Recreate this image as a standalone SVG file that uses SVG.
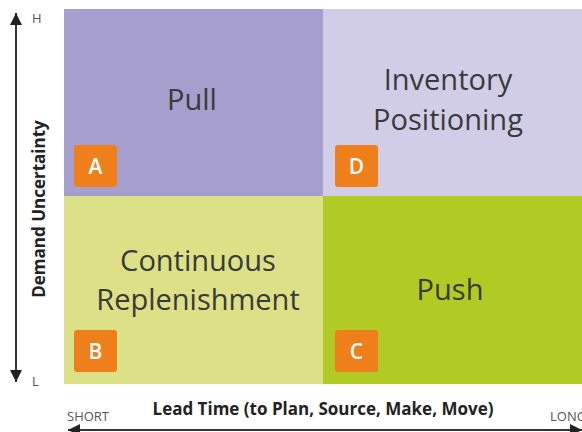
<svg xmlns="http://www.w3.org/2000/svg" width="582" height="432" viewBox="0 0 582 432">
  <style>
    .q { font-family: "Open Sans", "Noto Sans", sans-serif; font-size: 29px; fill: #3a3a3a; text-anchor: middle; }
    .badge { fill: #ef7f1a; }
    .bl { font-family: "Open Sans", "Noto Sans", sans-serif; font-size: 21px; font-weight: 600; fill: #ffffff; text-anchor: middle; }
    .ax { font-family: "Open Sans", "Noto Sans", sans-serif; font-size: 17px; font-weight: bold; fill: #222; text-anchor: middle; }
    .tick { font-family: "Open Sans", "Noto Sans", sans-serif; font-size: 13px; fill: #555; }
    .axis { stroke: #333; stroke-width: 2; fill: none; }
  </style>
  <defs>
    <marker id="head" viewBox="0 0 10 10" refX="10" refY="5" markerWidth="7" markerHeight="6" orient="auto" markerUnits="strokeWidth">
      <path d="M0,0 L10,5 L0,10 z" fill="#222"/>
    </marker>
  </defs>

  <rect width="582" height="432" fill="#ffffff"/>

  <!-- quadrant A: Pull -->
  <g id="quad-a">
    <rect x="64" y="9" width="259" height="187" fill="#a69ecd"/>
    <text class="q" x="192" y="110">Pull</text>
    <rect class="badge" x="74" y="145" width="43" height="42" rx="3"/>
    <text class="bl" x="95.5" y="174">A</text>
  </g>

  <!-- quadrant D: Inventory Positioning -->
  <g id="quad-d">
    <rect x="323" y="9" width="259" height="187" fill="#d1cde6"/>
    <text class="q" x="448" y="90">Inventory</text>
    <text class="q" x="448" y="130">Positioning</text>
    <rect class="badge" x="335" y="145" width="43" height="42" rx="3"/>
    <text class="bl" x="356.5" y="174">D</text>
  </g>

  <!-- quadrant B: Continuous Replenishment -->
  <g id="quad-b">
    <rect x="64" y="196" width="259" height="188" fill="#dce086"/>
    <text class="q" x="198" y="271">Continuous</text>
    <text class="q" x="198" y="310">Replenishment</text>
    <rect class="badge" x="74" y="330" width="43" height="42" rx="3"/>
    <text class="bl" x="95.5" y="359">B</text>
  </g>

  <!-- quadrant C: Push -->
  <g id="quad-c">
    <rect x="323" y="196" width="259" height="188" fill="#b1cb24"/>
    <text class="q" x="450" y="300">Push</text>
    <rect class="badge" x="335" y="330" width="43" height="42" rx="3"/>
    <text class="bl" x="356.5" y="359">C</text>
  </g>

  <!-- axes -->
  <g id="connectors">
    <line class="axis" x1="16" y1="197" x2="16" y2="13" marker-end="url(#head)"/>
    <line class="axis" x1="16" y1="197" x2="16" y2="382" marker-end="url(#head)"/>
    <line class="axis" x1="323" y1="430" x2="68" y2="430" marker-end="url(#head)"/>
    <line class="axis" x1="323" y1="430" x2="582" y2="430" marker-end="url(#head)"/>
  </g>

  <g id="axis-labels">
    <text class="tick" x="32" y="23">H</text>
    <text class="tick" x="32" y="386">L</text>
    <text class="ax" transform="translate(45,209) rotate(-90)">Demand Uncertainty</text>
    <text class="ax" x="323" y="415">Lead Time (to Plan, Source, Make, Move)</text>
    <text class="tick" x="67" y="421">SHORT</text>
    <text class="tick" x="550" y="421">LONG</text>
  </g>
</svg>
